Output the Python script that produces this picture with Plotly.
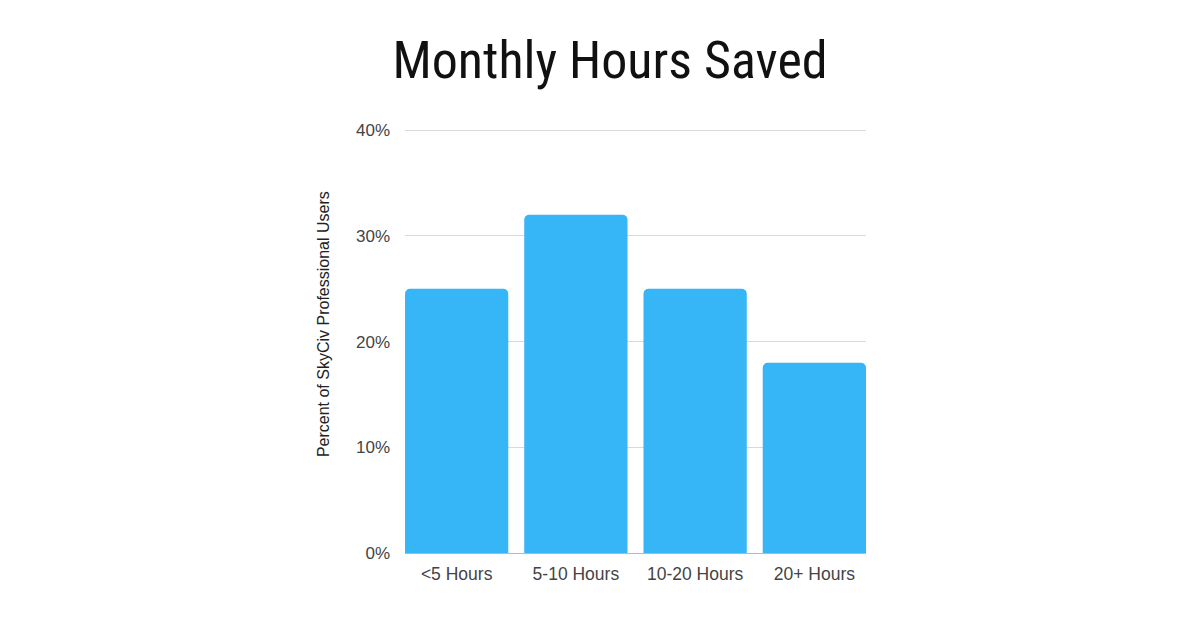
import plotly.graph_objects as go

categories = ["<5 Hours", "5-10 Hours", "10-20 Hours", "20+ Hours"]
values = [25, 32, 25, 18]
tick_vals = [0, 10, 20, 30, 40]
tick_text = ["0%", "10%", "20%", "30%", "40%"]

fig = go.Figure(go.Bar(
    x=categories, y=values,
    marker=dict(color="#36B5F7", line=dict(width=0)),
    hoverinfo="skip",
))

W, H = 1200, 628
OFF = 8  # page body margin
YMAX = 40.4
px_per_unit = (553 - 130) / 40
plot_h = px_per_unit * YMAX
L, R, B = 405 - OFF, 1200 - 866 + OFF, 628 - 553 + OFF
T = H - B - plot_h
half = 0.866 / 2

fig.update_layout(
    width=W, height=H,
    margin=dict(l=L, r=R, t=T, b=B, pad=0),
    paper_bgcolor="white", plot_bgcolor="white",
    bargap=0.134,
    barcornerradius=5,
    showlegend=False,
    title=dict(
        text="Monthly Hours Saved",
        x=(610 - OFF) / W, xanchor="center", xref="container",
        y=1 - (60 - OFF) / H, yanchor="middle", yref="container",
        font=dict(family="Roboto Condensed, Liberation Sans Narrow, Arial Narrow, Roboto", size=52, color="#111111"),
    ),
    font=dict(family="Liberation Sans, Arial, sans-serif", color="#444444"),
)

fig.update_yaxes(
    range=[0, YMAX], tickvals=tick_vals, ticktext=tick_text,
    showgrid=True, gridcolor="#d9d9d9", gridwidth=1,
    zeroline=False, showline=False,
    ticks="", ticklabelstandoff=14,
    tickfont=dict(size=17, color="#444444"),
    fixedrange=True,
)
fig.update_xaxes(
    range=[-half, len(categories) - 1 + half],
    showgrid=False, showline=True, linecolor="#b8b8b8", linewidth=1,
    ticks="", ticklabelstandoff=5,
    tickfont=dict(size=17.5, color="#444444"),
    fixedrange=True,
)

fig.add_annotation(
    text="Percent of SkyCiv Professional Users",
    xref="paper", yref="paper",
    x=(323 - 405) / (866 - 405), y=(553 - 324) / plot_h,
    xanchor="center", yanchor="middle",
    textangle=-90, showarrow=False,
    font=dict(family="Liberation Sans, Arial, sans-serif", size=16, color="#222222"),
)

fig.write_html("out.html")
